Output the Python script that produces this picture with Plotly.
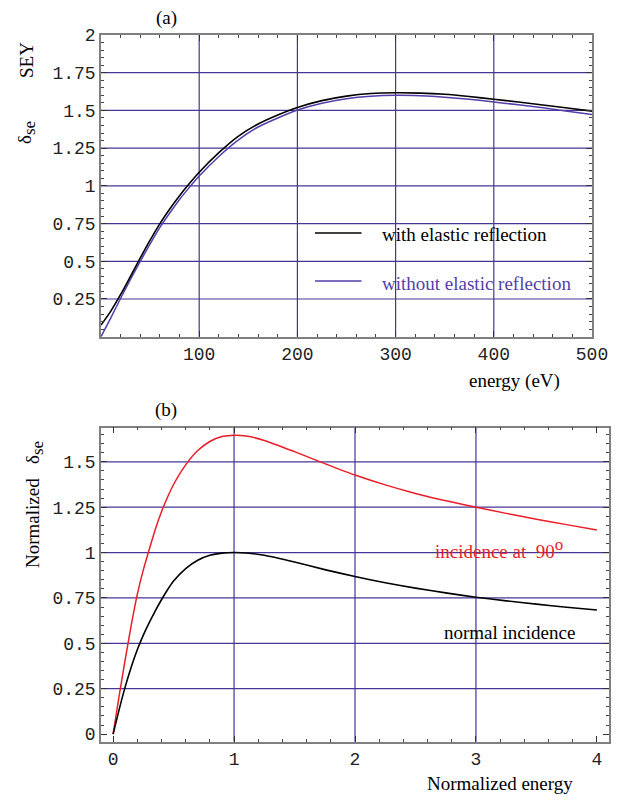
import plotly.graph_objects as go

# ---------------- data ----------------
# panel (a): secondary electron yield vs energy
a_energy = [0, 10, 20, 30, 40, 50, 60, 70, 80, 90, 100, 120, 140, 160, 180, 200,
            225, 250, 275, 300, 325, 350, 375, 400, 425, 450, 475, 500]
a_with = [0.077, 0.17, 0.28, 0.40, 0.522, 0.64, 0.75, 0.847, 0.935, 1.015, 1.09, 1.22,
          1.33, 1.41, 1.47, 1.52, 1.565, 1.595, 1.612, 1.617, 1.615, 1.607, 1.592,
          1.574, 1.556, 1.536, 1.516, 1.495]
a_without = [0.0, 0.125, 0.255, 0.38, 0.50, 0.615, 0.725, 0.82, 0.91, 0.99, 1.065, 1.195,
             1.305, 1.39, 1.45, 1.503, 1.548, 1.578, 1.594, 1.600, 1.597, 1.588, 1.574,
             1.556, 1.537, 1.517, 1.495, 1.473]
a_xticks = [100, 200, 300, 400, 500]
a_yticks = [0.25, 0.5, 0.75, 1, 1.25, 1.5, 1.75, 2]
a_xgrid = [100, 200, 300, 400]
a_ygrid = [0.25, 0.5, 0.75, 1, 1.25, 1.5, 1.75]

# panel (b): normalized yield vs normalized energy
b_energy = [0, 0.05, 0.1, 0.15, 0.2, 0.25, 0.3, 0.35, 0.4, 0.45, 0.5, 0.6, 0.7, 0.8, 0.9,
            1.0, 1.1, 1.25, 1.5, 1.75, 2.0, 2.25, 2.5, 2.75, 3.0, 3.25, 3.5, 3.75, 4.0]
b_normal = [0, 0.135, 0.26, 0.37, 0.465, 0.545, 0.615, 0.68, 0.74, 0.795, 0.843, 0.912,
            0.958, 0.985, 0.997, 1.0, 0.998, 0.985, 0.948, 0.906, 0.868, 0.834, 0.804,
            0.778, 0.754, 0.734, 0.716, 0.699, 0.684]
b_90deg = [0, 0.21, 0.41, 0.6, 0.77, 0.905, 1.02, 1.13, 1.225, 1.305, 1.375, 1.483, 1.562,
           1.612, 1.639, 1.647, 1.642, 1.618, 1.556, 1.49, 1.427, 1.373, 1.326, 1.285,
           1.25, 1.216, 1.184, 1.154, 1.125]
b_xticks = [0, 1, 2, 3, 4]
b_yticks = [0, 0.25, 0.5, 0.75, 1, 1.25, 1.5]
b_xgrid = [1, 2, 3]
b_ygrid = [0.25, 0.5, 0.75, 1, 1.25, 1.5]

# ---------------- style ----------------
W, H = 630, 800
PURPLE = "rgb(85,62,170)"
GRID = "rgb(72,52,150)"
RED = "rgb(232,30,40)"
SERIF = "Liberation Serif, Times New Roman, serif"
MONO = "Liberation Mono, Courier New, monospace"


def fx(p):
    return p / W


def fy(p):
    return 1 - p / H


fig = go.Figure()
fig.add_trace(go.Scatter(x=a_energy, y=a_without, mode="lines",
                         line=dict(color=PURPLE, width=1.5, shape="spline", smoothing=0.6),
                         xaxis="x", yaxis="y"))
fig.add_trace(go.Scatter(x=a_energy, y=a_with, mode="lines",
                         line=dict(color="black", width=1.6, shape="spline", smoothing=0.6),
                         xaxis="x", yaxis="y"))
fig.add_trace(go.Scatter(x=b_energy, y=b_90deg, mode="lines",
                         line=dict(color=RED, width=1.5, shape="spline", smoothing=0.6),
                         xaxis="x2", yaxis="y2"))
fig.add_trace(go.Scatter(x=b_energy, y=b_normal, mode="lines",
                         line=dict(color="black", width=1.6, shape="spline", smoothing=0.6),
                         xaxis="x2", yaxis="y2"))

common = dict(showline=True, linecolor="#808080", linewidth=1.5, mirror="ticks",
              ticks="inside", ticklen=6, tickwidth=1, tickcolor="#333",
              showgrid=False, zeroline=False, layer="above traces",
              tickfont=dict(family=MONO, size=18, color="#222"),
              minor=dict(ticks="inside", ticklen=3, tickwidth=1, tickcolor="#444",
                         showgrid=False))

fig.update_layout(
    width=W, height=H, margin=dict(l=0, r=0, t=0, b=0, autoexpand=False),
    paper_bgcolor="white", plot_bgcolor="white", showlegend=False,
    xaxis=dict(common, domain=[fx(101), fx(592)], range=[0, 500], anchor="y",
               tickvals=a_xticks, ticktext=[str(v) for v in a_xticks],
               minor=dict(common["minor"], dtick=20, tick0=0)),
    yaxis=dict(common, domain=[fy(336.7), fy(35)], range=[0, 2], anchor="x",
               tickvals=a_yticks, ticktext=["0.25", "0.5", "0.75", "1", "1.25", "1.5", "1.75", "2"],
               minor=dict(common["minor"], dtick=0.05, tick0=0)),
    xaxis2=dict(common, domain=[fx(101), fx(609)], range=[-0.1, 4.1], anchor="y2",
                tickvals=b_xticks, ticktext=[str(v) for v in b_xticks],
                minor=dict(common["minor"], dtick=0.2, tick0=0)),
    yaxis2=dict(common, domain=[fy(741.7), fy(427.7)], range=[-0.042, 1.688], anchor="x2",
                tickvals=b_yticks, ticktext=["0", "0.25", "0.5", "0.75", "1", "1.25", "1.5"],
                minor=dict(common["minor"], dtick=0.05, tick0=0)),
)

shapes = []
for v in a_xgrid:
    shapes.append(dict(type="line", xref="x", yref="y domain", x0=v, x1=v, y0=0, y1=1,
                       line=dict(color=GRID, width=1.2), layer="below"))
for v in a_ygrid:
    shapes.append(dict(type="line", xref="x domain", yref="y", x0=0, x1=1, y0=v, y1=v,
                       line=dict(color=GRID, width=1.2), layer="below"))
for v in b_xgrid:
    shapes.append(dict(type="line", xref="x2", yref="y2 domain", x0=v, x1=v, y0=0, y1=1,
                       line=dict(color=GRID, width=1.2), layer="below"))
for v in b_ygrid:
    shapes.append(dict(type="line", xref="x2 domain", yref="y2", x0=0, x1=1, y0=v, y1=v,
                       line=dict(color=GRID, width=1.2), layer="below"))
# legend samples in panel (a)
shapes.append(dict(type="line", xref="paper", yref="paper", x0=fx(315), x1=fx(361.5),
                   y0=fy(233), y1=fy(233), line=dict(color="black", width=1.5)))
shapes.append(dict(type="line", xref="paper", yref="paper", x0=fx(315), x1=fx(361.5),
                   y0=fy(281), y1=fy(281), line=dict(color=PURPLE, width=1.5)))
fig.update_layout(shapes=shapes)


def ann(text, x, y, color="black", size=19, angle=0, xanchor="center", yanchor="middle"):
    fig.add_annotation(text=text, x=fx(x), y=fy(y), xref="paper", yref="paper",
                       showarrow=False, textangle=angle, xanchor=xanchor, yanchor=yanchor,
                       font=dict(family=SERIF, size=size, color=color))


SUB = "<sub><span style='font-size:17px'>se</span></sub>"

ann("(a)", 166, 18)
ann("SEY", 27, 60, angle=-90)
ann("δ" + SUB, 26, 133, angle=-90)
ann("energy (eV)", 514, 381)
ann("with elastic reflection", 379.6, 235, xanchor="left")
ann("without elastic reflection", 379.6, 283, color=PURPLE, xanchor="left")

ann("(b)", 166, 410)
ann("Normalized\u00a0\u00a0 δ" + SUB, 34, 505, angle=-90)
ann("Normalized energy", 500, 783)
ann("incidence at \u00a090<sup><span style='font-size:17px'>o</span></sup>", 433, 548,
    color=RED, xanchor="left")
ann("normal incidence", 441.7, 632, xanchor="left")

POST = (
    "document.documentElement.style.margin='0';"
    "document.documentElement.style.overflow='hidden';"
    "document.body.style.margin='0';document.body.style.padding='0';"
    "document.body.style.overflow='hidden';"
    "var d=document.getElementById('{plot_id}');"
    "d.style.position='absolute';d.style.left='0px';d.style.top='0px';"
)

fig.write_html("out.html", config={"displayModeBar": False}, post_script=POST)
